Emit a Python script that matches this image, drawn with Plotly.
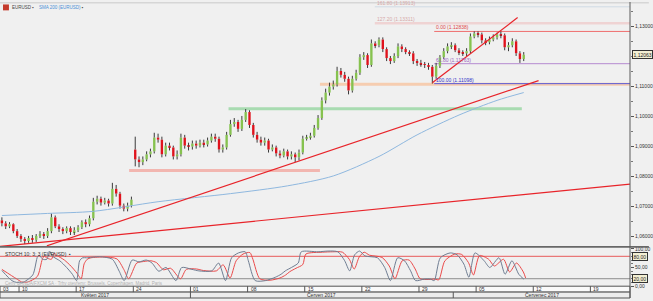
import plotly.graph_objects as go

# ---------------- data ----------------
opens = [1.0654, 1.0644, 1.0634, 1.0641, 1.0618, 1.0602, 1.0592, 1.0585, 1.0595, 1.0589,
         1.0602, 1.0608, 1.0602, 1.0618, 1.0664, 1.0634, 1.0625, 1.0618, 1.0628, 1.0615,
         1.0621, 1.0631, 1.0648, 1.0641, 1.0661, 1.0716, 1.0726, 1.0713, 1.0720, 1.0710,
         1.0759, 1.0743, 1.0703, 1.0693, 1.0703, 1.0890, 1.0857, 1.0848, 1.0857, 1.0874,
         1.0884, 1.0930, 1.0923, 1.0874, 1.0903, 1.0897, 1.0867, 1.0874, 1.0930, 1.0903,
         1.0900, 1.0910, 1.0903, 1.0913, 1.0907, 1.0920, 1.0933, 1.0926, 1.0890, 1.0897,
         1.0939, 1.0975, 1.0982, 1.0959, 1.0989, 1.1015, 1.0972, 1.0939, 1.0923, 1.0913,
         1.0920, 1.0890, 1.0897, 1.0877, 1.0870, 1.0884, 1.0867, 1.0874, 1.0864, 1.0880,
         1.0926, 1.0930, 1.0936, 1.0962, 1.0995, 1.1054, 1.1080, 1.1100, 1.1107, 1.1152,
         1.1139, 1.1126, 1.1087, 1.1126, 1.1146, 1.1198, 1.1205, 1.1172, 1.1244, 1.1238,
         1.1257, 1.1225, 1.1195, 1.1185, 1.1202, 1.1234, 1.1225, 1.1215, 1.1211, 1.1185,
         1.1179, 1.1175, 1.1172, 1.1166, 1.1133, 1.1169, 1.1198, 1.1218, 1.1234, 1.1238,
         1.1221, 1.1215, 1.1211, 1.1218, 1.1267, 1.1277, 1.1274, 1.1254, 1.1248, 1.1257,
         1.1264, 1.1274, 1.1271, 1.1231, 1.1238, 1.1251, 1.1211, 1.1192]
highs = [1.0664, 1.0651, 1.0648, 1.0644, 1.0625, 1.0608, 1.0598, 1.0602, 1.0605, 1.0608,
         1.0618, 1.0615, 1.0628, 1.0677, 1.0670, 1.0641, 1.0631, 1.0634, 1.0634, 1.0631,
         1.0638, 1.0654, 1.0657, 1.0670, 1.0729, 1.0736, 1.0733, 1.0729, 1.0726, 1.0779,
         1.0772, 1.0749, 1.0710, 1.0713, 1.0733, 1.0933, 1.0867, 1.0867, 1.0884, 1.0893,
         1.0946, 1.0943, 1.0933, 1.0913, 1.0913, 1.0903, 1.0887, 1.0943, 1.0939, 1.0913,
         1.0920, 1.0920, 1.0923, 1.0923, 1.0930, 1.0943, 1.0943, 1.0933, 1.0907, 1.0949,
         1.0989, 1.0995, 1.0989, 1.1002, 1.1025, 1.1021, 1.0979, 1.0949, 1.0933, 1.0930,
         1.0926, 1.0907, 1.0903, 1.0887, 1.0893, 1.0890, 1.0884, 1.0880, 1.0890, 1.0936,
         1.0939, 1.0946, 1.0972, 1.1005, 1.1064, 1.1093, 1.1113, 1.1120, 1.1166, 1.1162,
         1.1149, 1.1133, 1.1136, 1.1156, 1.1208, 1.1215, 1.1211, 1.1257, 1.1251, 1.1264,
         1.1264, 1.1231, 1.1202, 1.1211, 1.1244, 1.1241, 1.1231, 1.1221, 1.1218, 1.1192,
         1.1189, 1.1182, 1.1179, 1.1172, 1.1179, 1.1205, 1.1228, 1.1244, 1.1248, 1.1244,
         1.1228, 1.1221, 1.1228, 1.1277, 1.1284, 1.1284, 1.1280, 1.1261, 1.1267, 1.1274,
         1.1280, 1.1284, 1.1277, 1.1248, 1.1261, 1.1257, 1.1218, 1.1215]
lows = [1.0634, 1.0625, 1.0628, 1.0611, 1.0595, 1.0582, 1.0575, 1.0579, 1.0579, 1.0582,
        1.0595, 1.0592, 1.0595, 1.0611, 1.0628, 1.0615, 1.0608, 1.0611, 1.0605, 1.0605,
        1.0615, 1.0625, 1.0631, 1.0634, 1.0654, 1.0707, 1.0703, 1.0707, 1.0700, 1.0703,
        1.0733, 1.0693, 1.0684, 1.0684, 1.0697, 1.0834, 1.0831, 1.0838, 1.0851, 1.0864,
        1.0877, 1.0913, 1.0864, 1.0867, 1.0887, 1.0857, 1.0857, 1.0867, 1.0893, 1.0887,
        1.0890, 1.0893, 1.0897, 1.0897, 1.0900, 1.0913, 1.0916, 1.0880, 1.0880, 1.0890,
        1.0933, 1.0966, 1.0949, 1.0952, 1.0982, 1.0962, 1.0930, 1.0913, 1.0903, 1.0903,
        1.0880, 1.0884, 1.0867, 1.0861, 1.0864, 1.0857, 1.0857, 1.0848, 1.0854, 1.0874,
        1.0920, 1.0923, 1.0930, 1.0956, 1.0989, 1.1044, 1.1070, 1.1090, 1.1100, 1.1130,
        1.1116, 1.1074, 1.1080, 1.1120, 1.1139, 1.1189, 1.1162, 1.1166, 1.1228, 1.1231,
        1.1215, 1.1185, 1.1175, 1.1179, 1.1195, 1.1215, 1.1208, 1.1202, 1.1175, 1.1169,
        1.1166, 1.1162, 1.1156, 1.1110, 1.1126, 1.1162, 1.1192, 1.1211, 1.1225, 1.1215,
        1.1205, 1.1202, 1.1202, 1.1211, 1.1261, 1.1264, 1.1244, 1.1238, 1.1241, 1.1251,
        1.1257, 1.1261, 1.1221, 1.1218, 1.1231, 1.1202, 1.1179, 1.1185]
closes = [1.0644, 1.0634, 1.0641, 1.0618, 1.0602, 1.0592, 1.0585, 1.0595, 1.0589, 1.0602,
          1.0608, 1.0602, 1.0618, 1.0664, 1.0634, 1.0625, 1.0618, 1.0628, 1.0615, 1.0621,
          1.0631, 1.0648, 1.0641, 1.0661, 1.0716, 1.0726, 1.0713, 1.0720, 1.0710, 1.0759,
          1.0743, 1.0703, 1.0693, 1.0703, 1.0723, 1.0857, 1.0848, 1.0857, 1.0874, 1.0884,
          1.0930, 1.0923, 1.0874, 1.0903, 1.0897, 1.0867, 1.0874, 1.0930, 1.0903, 1.0900,
          1.0910, 1.0903, 1.0913, 1.0907, 1.0920, 1.0933, 1.0926, 1.0890, 1.0897, 1.0939,
          1.0975, 1.0982, 1.0959, 1.0989, 1.1015, 1.0972, 1.0939, 1.0923, 1.0913, 1.0920,
          1.0890, 1.0897, 1.0877, 1.0870, 1.0884, 1.0867, 1.0874, 1.0864, 1.0880, 1.0926,
          1.0930, 1.0936, 1.0962, 1.0995, 1.1054, 1.1080, 1.1100, 1.1107, 1.1152, 1.1139,
          1.1126, 1.1087, 1.1126, 1.1146, 1.1198, 1.1205, 1.1172, 1.1244, 1.1238, 1.1257,
          1.1225, 1.1195, 1.1185, 1.1202, 1.1234, 1.1225, 1.1215, 1.1211, 1.1185, 1.1179,
          1.1175, 1.1172, 1.1166, 1.1133, 1.1169, 1.1198, 1.1218, 1.1234, 1.1238, 1.1221,
          1.1215, 1.1211, 1.1218, 1.1267, 1.1277, 1.1274, 1.1254, 1.1248, 1.1257, 1.1264,
          1.1274, 1.1271, 1.1231, 1.1238, 1.1251, 1.1211, 1.1192, 1.12063]
candle_idx = list(range(len(closes)))

sma_idx = [0, 12, 24, 41, 60, 75, 87, 99, 109, 120, 130, 137]
sma_val = [1.0670, 1.0677, 1.0684, 1.0716, 1.0743, 1.0769, 1.0802, 1.0867, 1.0939, 1.1005, 1.1054, 1.1080]

stoch_k_idx = [0, 2.6, 3.9, 5.5, 8.1, 9.4, 9.9, 10.7, 11.8, 12.5, 13.3, 15.2, 17, 18.5, 19.6,
               20.4, 21.2, 22.2, 25.6, 29, 30.8, 32.1, 34.2, 36, 37.9, 39.4, 41.2, 43.1, 45.7,
               47.2, 49.9, 51.7, 55.1, 56.9, 58.7, 60.3, 62.1, 63.9, 64.7, 66.5, 69.2, 71.8,
               73.3, 74.4, 76, 77.8, 78.6, 83, 85.6, 88.2, 90, 91.3, 92.6, 93.9, 95.3, 98.6,
               100.5, 102, 103.9, 105.7, 107.3, 108.6, 110.9, 112.5, 113.5, 115.1, 117.7,
               119.5, 121.3, 122.6, 124.2, 126.6, 128.1, 130.5, 132.1, 133.9, 135.7, 137]
stoch_k = [42, 15, 10, 10, 30, 80, 82, 72, 72, 94, 80, 68, 50, 32, 15, 68, 76, 76, 79, 72,
           40, 15, 70, 65, 70, 62, 40, 50, 15, 50, 45, 41, 41, 62, 15, 76, 89, 92, 68, 15,
           15, 24, 32, 41, 50, 62, 92, 92, 94, 92, 68, 41, 84, 94, 81, 76, 50, 15, 76, 68,
           41, 15, 19, 19, 15, 76, 89, 84, 59, 24, 89, 68, 50, 76, 32, 68, 32, 19]
stoch_d_idx = [0, 3.8, 5.1, 6.7, 9.3, 10.6, 11.1, 11.9, 13, 13.7, 14.5, 16.4, 18.2, 19.7, 20.8,
               21.6, 22.4, 23.4, 26.8, 30.2, 32, 33.3, 35.4, 37.2, 39.1, 40.6, 42.4, 44.3, 46.9,
               48.4, 51.1, 52.9, 56.3, 58.1, 59.9, 61.5, 63.3, 65.1, 65.9, 67.7, 70.4, 73,
               74.5, 75.6, 77.2, 79, 79.8, 84.2, 86.8, 89.4, 91.2, 92.5, 93.8, 95.1, 96.5, 99.8,
               101.7, 103.2, 105.1, 106.9, 108.5, 109.8, 112.1, 113.7, 114.7, 116.3, 118.9,
               120.7, 122.5, 123.8, 125.4, 127.8, 129.3, 131.7, 133.3, 135.1, 136.9, 137.5]
stoch_d = [45, 20, 12, 11, 26, 72, 80, 75, 72, 88, 82, 70, 53, 35, 20, 60, 72, 76, 78, 73,
           45, 20, 62, 66, 68, 63, 44, 48, 20, 45, 46, 42, 41, 57, 22, 68, 86, 90, 72, 20,
           16, 22, 30, 39, 48, 58, 86, 91, 92, 91, 72, 46, 78, 91, 83, 77, 54, 20, 68, 70,
           46, 20, 18, 19, 17, 68, 86, 85, 63, 30, 82, 72, 54, 72, 38, 62, 38, 22]

week_idx = [-0.5, 4.5, 19.5, 34.5, 49.5, 64.5, 79.5, 94.5, 109.5, 124.5, 139.5, 154.5]
week_labels = ["03", "10", "17", "24", "01", "08", "15", "22", "29", "05", "12", "19"]
month_sep_idx = [49.5, 118.5]
month_label_idx = [24.5, 84, 141.7]
month_labels = ["Květen 2017", "Červen 2017", "Červenec 2017"]

price_ticks = [1.06, 1.07, 1.08, 1.09, 1.10, 1.11, 1.13]
price_tick_text = ["1,06000", "1,07000", "1,08000", "1,09000", "1,10000", "1,11000", "1,13000"]
last_price = 1.12063

# drawn objects (price levels / trendlines), in data coordinates
steep_trend = [(11.8, 1.0569), (140.9, 1.1120)]
shallow_trend = [(-0.5, 1.0567), (164.9, 1.0775)]
short_trend = [(113.0, 1.1113), (135.4, 1.1330)]
zone_support = [(33.4, 83.5), (1.0815, 1.0825)]
zone_green = [(59.5, 136.5), (1.1021, 1.1031)]
zone_peach = [(83.5, 164.9), (1.1103, 1.1113)]
fib_start = 113.5
fib_levels = [1.12838, 1.11763, 1.11098]
fib_texts = ["0.00 (1.12838)", "61.80 (1.11763)", "100.00 (1.11098)"]
fib_colors = ["#ee6f6f", "#b58ad0", "#5b5bd6"]
fib_text_colors = ["#e04848", "#9a62c0", "#3535c8"]
ext_start = 97.9
ext_levels = [1.1311, 1.1366]
ext_texts = ["127.20 (1.13311)", "161.80 (1.13913)"]

# ---------------- geometry ----------------
W, H = 653, 301
PW = 634  # plot width in px
XR = [-0.5, 164.9]
YR = [1.05688, 1.1382]


def py(px):
    return 1 - px / H


def pxx(px):
    return px / PW


FONT = "Liberation Sans, Arial, sans-serif"
BG = "#f0f0f0"

fig = go.Figure()

# candle wicks
wx, wy = [], []
for i, o, h, l, c in zip(candle_idx, opens, highs, lows, closes):
    top, bot = max(o, c), min(o, c)
    wx += [i, i, None, i, i, None]
    wy += [h, top, None, bot, l, None]
fig.add_trace(go.Scatter(x=wx, y=wy, mode="lines", line=dict(color="#3a3a3a", width=1),
                         hoverinfo="skip", xaxis="x", yaxis="y"))

# candle bodies
body_base = [min(o, c) for o, c in zip(opens, closes)]
body_h = [max(abs(c - o), 0.00007) for o, c in zip(opens, closes)]
body_col = ["#86c24f" if c >= o else "#e0121c" for o, c in zip(opens, closes)]
fig.add_trace(go.Bar(x=candle_idx, y=body_h, base=body_base, width=0.62,
                     marker=dict(color=body_col, line=dict(width=0)),
                     xaxis="x", yaxis="y", hoverinfo="skip"))

# SMA 200
fig.add_trace(go.Scatter(x=sma_idx, y=sma_val, mode="lines",
                         line=dict(color="#8fb8df", width=1, shape="spline", smoothing=0.8),
                         xaxis="x", yaxis="y", hoverinfo="skip"))

# Stochastic
fig.add_trace(go.Scatter(x=stoch_d_idx, y=stoch_d, mode="lines",
                         line=dict(color="#ea4a4a", width=1, shape="spline", smoothing=0.7),
                         xaxis="x2", yaxis="y2", hoverinfo="skip"))
fig.add_trace(go.Scatter(x=stoch_k_idx, y=stoch_k, mode="lines",
                         line=dict(color="#6f7d92", width=1, shape="spline", smoothing=0.7),
                         xaxis="x2", yaxis="y2", hoverinfo="skip"))

shapes = []
annotations = []

# zones
for (x0, x1), (y0, y1), col in [(zone_support[0], zone_support[1], "#f2b6b0"),
                                (zone_green[0], zone_green[1], "#a8dbb1"),
                                (zone_peach[0], zone_peach[1], "#f6cdb0")]:
    shapes.append(dict(type="rect", xref="x", yref="y", x0=x0, x1=x1, y0=y0, y1=y1,
                       fillcolor=col, line=dict(width=0), layer="below"))

# extension lines
shapes.append(dict(type="line", xref="x", yref="y", x0=ext_start, x1=XR[1], y0=ext_levels[0],
                   y1=ext_levels[0], line=dict(color="#efd3d3", width=2.5), layer="below"))
shapes.append(dict(type="line", xref="x", yref="y", x0=ext_start, x1=XR[1], y0=ext_levels[1],
                   y1=ext_levels[1], line=dict(color="#cfdbe4", width=1), layer="below"))
for t, lv in zip(ext_texts, ext_levels):
    annotations.append(dict(x=ext_start, y=lv, xref="x", yref="y", text=t, showarrow=False,
                            xanchor="left", yanchor="bottom", yshift=-1,
                            font=dict(size=5, color="#d6a8a8", family=FONT)))

# fib lines
for lv, t, lc, tc in zip(fib_levels, fib_texts, fib_colors, fib_text_colors):
    shapes.append(dict(type="line", xref="x", yref="y", x0=fib_start, x1=XR[1], y0=lv, y1=lv,
                       line=dict(color=lc, width=1), layer="below"))
    annotations.append(dict(x=fib_start, y=lv, xref="x", yref="y", text=t, showarrow=False,
                            xanchor="left", yanchor="bottom", yshift=-1,
                            font=dict(size=5, color=tc, family=FONT)))

# trendlines
for (a, b) in [steep_trend, shallow_trend, short_trend]:
    shapes.append(dict(type="line", xref="x", yref="y", x0=a[0], y0=a[1], x1=b[0], y1=b[1],
                       line=dict(color="#e8242a", width=1.2)))

# pane separator
shapes.append(dict(type="rect", xref="paper", yref="paper", x0=0, x1=W / PW, y0=py(250), y1=py(248),
                   fillcolor="#686868", line=dict(width=0)))
# top header shade
shapes.append(dict(type="rect", xref="paper", yref="paper", x0=0, x1=W / PW, y0=py(1.5), y1=1,
                   fillcolor="#d6d6d6", line=dict(width=0)))

# stoch level lines
shapes.append(dict(type="line", xref="paper", yref="y2", x0=0, x1=1, y0=80, y1=80,
                   line=dict(color="#e85a5a", width=1), layer="below"))
shapes.append(dict(type="line", xref="paper", yref="y2", x0=0, x1=1, y0=20, y1=20,
                   line=dict(color="#8c8c8c", width=1), layer="below"))

# date rows
shapes.append(dict(type="rect", xref="paper", yref="paper", x0=0, x1=1, y0=py(295), y1=py(289),
                   fillcolor="#fafafa", line=dict(color="#555555", width=1)))
shapes.append(dict(type="rect", xref="paper", yref="paper", x0=0, x1=1, y0=py(301), y1=py(295),
                   fillcolor="#ececec", line=dict(color="#555555", width=1)))
for wi, wl in zip(week_idx, week_labels):
    if wi > XR[0]:
        shapes.append(dict(type="line", xref="x", yref="paper", x0=wi, x1=wi, y0=py(295), y1=py(289),
                           line=dict(color="#555555", width=1)))
    annotations.append(dict(x=max(wi, XR[0]), y=py(292.2), xref="x", yref="paper", text=wl,
                            showarrow=False, xanchor="left", yanchor="middle", xshift=1,
                            font=dict(size=5, color="#333333", family=FONT)))
for mi in month_sep_idx:
    shapes.append(dict(type="line", xref="x", yref="paper", x0=mi, x1=mi, y0=0, y1=py(295),
                       line=dict(color="#555555", width=1)))
for mi, ml in zip(month_label_idx, month_labels):
    annotations.append(dict(x=mi, y=py(298.3), xref="x", yref="paper", text=ml, showarrow=False,
                            xanchor="center", yanchor="middle",
                            font=dict(size=5, color="#333333", family=FONT)))

# right axis vertical line through all panes
shapes.append(dict(type="line", xref="paper", yref="paper", x0=1, x1=1, y0=0, y1=1,
                   line=dict(color="#5a5a5a", width=1)))

# header texts
shapes.append(dict(type="rect", xref="paper", yref="paper", x0=pxx(3), x1=pxx(9), y0=py(8.5), y1=py(2.5),
                   fillcolor="#c43a2c", line=dict(width=0)))
annotations.append(dict(x=pxx(10.5), y=py(5.5), xref="paper", yref="paper",
                        text="EURUSD ▪", showarrow=False, xanchor="left", yanchor="middle",
                        font=dict(size=4.5, color="#444444", family=FONT)))
annotations.append(dict(x=pxx(37), y=py(5.5), xref="paper", yref="paper",
                        text="<span style='color:#4a8fd6'>SMA 200 (EURUSD)</span> ▪", showarrow=False,
                        xanchor="left", yanchor="middle",
                        font=dict(size=4.5, color="#444444", family=FONT)))
annotations.append(dict(x=pxx(3), y=py(256), xref="paper", yref="paper",
                        text="STOCH 10; 3; 3 (EURUSD)  ▪", showarrow=False, xanchor="left",
                        yanchor="middle", font=dict(size=5, color="#333333", family=FONT)))
annotations.append(dict(x=pxx(3), y=py(286.5), xref="paper", yref="paper",
                        text="Ceny OANDA/FXCM SA · Trhy otevřeny: Brussels, Copenhagen, Madrid, Paris",
                        showarrow=False, xanchor="left", yanchor="middle",
                        font=dict(size=4.5, color="#b0b0b0", family=FONT)))

# price boxes
annotations.append(dict(x=pxx(636), y=last_price, xref="paper", yref="y",
                        text="1,12063", showarrow=False, xanchor="left", yanchor="middle",
                        bgcolor="#f3efd3", bordercolor="#333333", borderwidth=1, borderpad=0.5,
                        font=dict(size=5, color="#222222", family=FONT)))
for v, t in [(80, "80,00"), (20, "20,00")]:
    annotations.append(dict(x=pxx(636), y=v, xref="paper", yref="y2", text=t, showarrow=False,
                            xanchor="left", yanchor="middle", bgcolor="#f3efd3",
                            bordercolor="#333333", borderwidth=1, borderpad=0.5,
                            font=dict(size=5, color="#222222", family=FONT)))

axis_common = dict(showgrid=False, zeroline=False)
fig.update_layout(
    width=W, height=H,
    margin=dict(l=0, r=W - PW, t=0, b=0),
    paper_bgcolor=BG, plot_bgcolor=BG,
    showlegend=False, barmode="overlay",
    xaxis=dict(domain=[0, 1], range=XR, anchor="y", showticklabels=False, ticks="", **axis_common),
    xaxis2=dict(domain=[0, 1], range=XR, anchor="y2", matches="x", showticklabels=False, ticks="",
                **axis_common),
    yaxis=dict(domain=[py(248), 1], range=YR, side="right", anchor="x",
               tickvals=price_ticks, ticktext=price_tick_text, ticks="outside", ticklen=3,
               tickcolor="#555555", tickfont=dict(size=5, color="#333333", family=FONT),
               minor=dict(ticks="outside", ticklen=2, dtick=0.005, tickcolor="#777777"),
               **axis_common),
    yaxis2=dict(domain=[py(289), py(250)], range=[0, 102.6], side="right", anchor="x2",
                tickvals=[0, 50, 100], ticktext=["0,00", "50,00", "100,00"], ticks="outside",
                ticklen=3, tickcolor="#555555",
                tickfont=dict(size=5, color="#333333", family=FONT),
                minor=dict(ticks="outside", ticklen=2, dtick=10, tickcolor="#777777"),
                **axis_common),
    shapes=shapes,
    annotations=annotations,
)

fig.write_html("out.html")
